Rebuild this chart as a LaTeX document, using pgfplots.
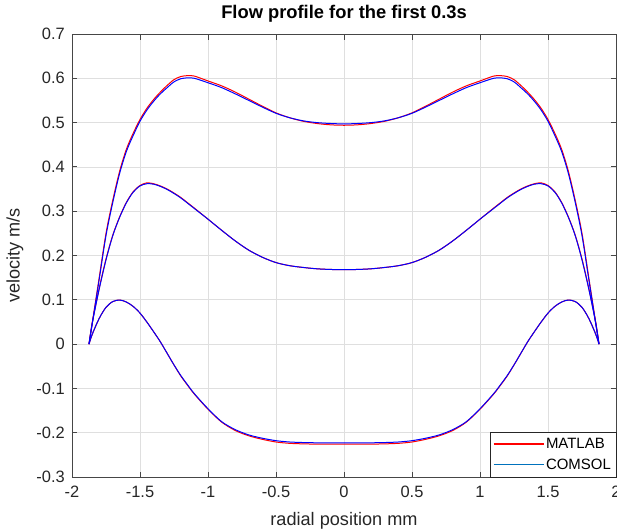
\documentclass[border=0pt]{standalone}
\usepackage{fontspec}
\setmainfont{Liberation Sans}
\usepackage{pgfplots}
\usepackage{pgfplotstable}
\pgfplotsset{compat=1.18}
\definecolor{axgray}{RGB}{38,38,38}
\definecolor{spine}{RGB}{70,70,70}
\definecolor{gridgray}{RGB}{223,223,223}
\definecolor{mblue}{RGB}{0,114,189}
\definecolor{mred}{RGB}{255,0,0}
\pgfplotstableread{
x aR aB bR bB cR cB
-1.875 0 0 0 0 0 0
-1.85 0.050 0.048 0.050 0.049 0.023 0.023
-1.8 0.150 0.146 0.126 0.124 0.058 0.058
-1.75 0.250 0.245 0.192 0.190 0.083 0.083
-1.7 0.325 0.320 0.246 0.245 0.096 0.096
-1.65 0.390 0.385 0.287 0.286 0.0995 0.0995
-1.6 0.440 0.435 0.320 0.319 0.095 0.095
-1.55 0.476 0.471 0.344 0.343 0.085 0.085
-1.5 0.507 0.503 0.358 0.357 0.070 0.070
-1.45 0.532 0.528 0.364 0.362 0.050 0.050
-1.4 0.552 0.548 0.362 0.361 0.028 0.028
-1.35 0.569 0.565 0.357 0.356 0.005 0.005
-1.3 0.584 0.579 0.350 0.349 -0.021 -0.021
-1.25 0.597 0.592 0.341 0.340 -0.047 -0.047
-1.2 0.604 0.599 0.331 0.330 -0.072 -0.071
-1.15 0.606 0.601 0.319 0.318 -0.093 -0.092
-1.1 0.605 0.600 0.307 0.306 -0.113 -0.112
-1.0 0.594 0.590 0.282 0.282 -0.147 -0.146
-0.9 0.583 0.579 0.257 0.257 -0.176 -0.175
-0.8 0.569 0.565 0.233 0.233 -0.195 -0.193
-0.7 0.553 0.550 0.212 0.212 -0.207 -0.205
-0.6 0.537 0.535 0.196 0.196 -0.215 -0.2125
-0.5 0.522 0.521 0.184 0.184 -0.221 -0.218
-0.4 0.511 0.511 0.177 0.177 -0.224 -0.221
-0.3 0.503 0.504 0.173 0.173 -0.2252 -0.2222
-0.2 0.498 0.500 0.170 0.170 -0.2258 -0.2228
-0.1 0.495 0.498 0.1685 0.1685 -0.226 -0.223
0 0.494 0.497 0.168 0.168 -0.226 -0.223
0.1 0.495 0.498 0.1685 0.1685 -0.226 -0.223
0.2 0.498 0.500 0.170 0.170 -0.2258 -0.2228
0.3 0.503 0.504 0.173 0.173 -0.2252 -0.2222
0.4 0.511 0.511 0.177 0.177 -0.224 -0.221
0.5 0.522 0.521 0.184 0.184 -0.221 -0.218
0.6 0.537 0.535 0.196 0.196 -0.215 -0.2125
0.7 0.553 0.550 0.212 0.212 -0.207 -0.205
0.8 0.569 0.565 0.233 0.233 -0.195 -0.193
0.9 0.583 0.579 0.257 0.257 -0.176 -0.175
1.0 0.594 0.590 0.282 0.282 -0.147 -0.146
1.1 0.605 0.600 0.307 0.306 -0.113 -0.112
1.15 0.606 0.601 0.319 0.318 -0.093 -0.092
1.2 0.604 0.599 0.331 0.330 -0.072 -0.071
1.25 0.597 0.592 0.341 0.340 -0.047 -0.047
1.3 0.584 0.579 0.350 0.349 -0.021 -0.021
1.35 0.569 0.565 0.357 0.356 0.005 0.005
1.4 0.552 0.548 0.362 0.361 0.028 0.028
1.45 0.532 0.528 0.364 0.362 0.050 0.050
1.5 0.507 0.503 0.358 0.357 0.070 0.070
1.55 0.476 0.471 0.344 0.343 0.085 0.085
1.6 0.440 0.435 0.320 0.319 0.095 0.095
1.65 0.390 0.385 0.287 0.286 0.0995 0.0995
1.7 0.325 0.320 0.246 0.245 0.096 0.096
1.75 0.250 0.245 0.192 0.190 0.083 0.083
1.8 0.150 0.146 0.126 0.124 0.058 0.058
1.85 0.050 0.048 0.050 0.049 0.023 0.023
1.875 0 0 0 0 0 0
}\flowdata
\begin{document}
\begin{tikzpicture}
\begin{axis}[
  scale only axis, width=544bp, height=443bp,
  xmin=-2, xmax=2, ymin=-0.3, ymax=0.7,
  xtick={-2,-1.5,-1,-0.5,0,0.5,1,1.5,2},
  xticklabels={-2,-1.5,-1,-0.5,0,0.5,1,1.5,2},
  ytick={-0.3,-0.2,-0.1,0,0.1,0.2,0.3,0.4,0.5,0.6,0.7},
  yticklabels={-0.3,-0.2,-0.1,0,0.1,0.2,0.3,0.4,0.5,0.6,0.7},
  grid=major, major grid style={gridgray, line width=0.7bp},
  axis line style={spine, line width=0.9bp},
  tick align=inside, major tick length=5.5bp,
  tick style={spine, line width=0.9bp},
  xtick pos=both, ytick pos=both,
  ticklabel style={font=\fontsize{16.5}{19}\selectfont, text=axgray},
  xticklabel style={anchor=north, inner sep=0pt, yshift=-9bp},
  yticklabel style={anchor=east, inner sep=0pt, xshift=-7bp},
  xlabel={radial position mm}, ylabel={velocity m/s},
  label style={font=\fontsize{18.2}{21}\selectfont, text=axgray},
  xlabel style={at={([yshift=-44bp]axis description cs:0.5,0)}, anchor=center},
  ylabel style={at={([xshift=-57bp]axis description cs:0,0.5)}, anchor=center},
  title={Flow profile for the first 0.3s},
  title style={font=\bfseries\fontsize{18.4}{21}\selectfont, text=black, at={([yshift=14bp]axis description cs:0.5,1)}, anchor=center},
  legend style={at={(1,0)}, anchor=south east, draw=axgray, fill=white,
    font=\fontsize{15}{17}\selectfont, inner xsep=3bp, inner ysep=4bp, row sep=5bp},
  legend cell align=left,
  legend image code/.code={\draw[#1] (0bp,0bp) -- (50bp,0bp);},
]
\addlegendimage{mred, line width=1.1bp}
\addlegendentry{MATLAB}
\addlegendimage{mblue, line width=1.1bp}
\addlegendentry{COMSOL}
\addplot[mred, line width=1bp, smooth, forget plot] table[x=x, y=aR] {\flowdata};
\addplot[mred, line width=1bp, smooth, forget plot] table[x=x, y=bR] {\flowdata};
\addplot[mred, line width=1bp, smooth, forget plot] table[x=x, y=cR] {\flowdata};
\addplot[blue, line width=1bp, smooth, forget plot] table[x=x, y=aB] {\flowdata};
\addplot[blue, line width=1bp, smooth, forget plot] table[x=x, y=bB] {\flowdata};
\addplot[blue, line width=1bp, smooth, forget plot] table[x=x, y=cB] {\flowdata};
\end{axis}
\pgfresetboundingbox
\path ([xshift=-72bp,yshift=-54bp]current axis.south west) rectangle ([xshift=1bp,yshift=34bp]current axis.north east);
\end{tikzpicture}
\end{document}
